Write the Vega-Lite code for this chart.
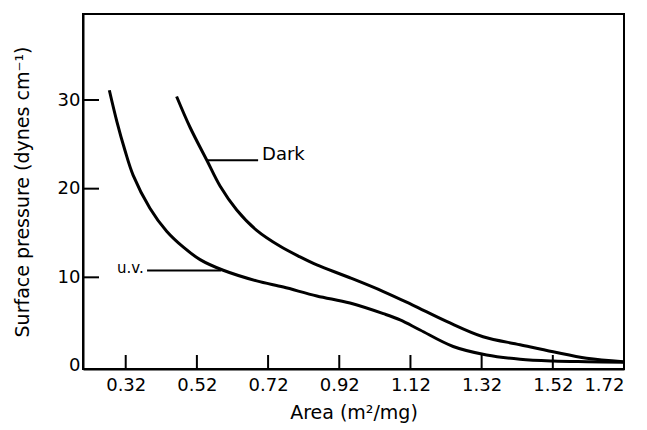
{
  "$schema": "https://vega.github.io/schema/vega-lite/v6.json",
  "autosize": "none",
  "width": 541,
  "height": 355,
  "padding": {"left": 83, "top": 14, "right": 23, "bottom": 61},
  "background": "white",
  "config": {
    "font": "DejaVu Sans",
    "view": {"stroke": "black", "strokeWidth": 2},
    "axis": {
      "domainColor": "black",
      "domainWidth": 2,
      "ticks": false,
      "grid": false,
      "labelColor": "black",
      "titleColor": "black",
      "labelFont": "DejaVu Sans",
      "titleFont": "DejaVu Sans",
      "labelFontSize": 18,
      "titleFontSize": 19,
      "titleFontWeight": "normal"
    }
  },
  "datasets": {
    "curves": [
      {"series": "u.v.", "area": 0.274, "pressure": 31.1},
      {"series": "u.v.", "area": 0.295, "pressure": 27.6},
      {"series": "u.v.", "area": 0.318, "pressure": 24.3},
      {"series": "u.v.", "area": 0.341, "pressure": 21.5},
      {"series": "u.v.", "area": 0.388, "pressure": 17.8},
      {"series": "u.v.", "area": 0.435, "pressure": 15.2},
      {"series": "u.v.", "area": 0.482, "pressure": 13.4},
      {"series": "u.v.", "area": 0.529, "pressure": 12.0},
      {"series": "u.v.", "area": 0.594, "pressure": 10.8},
      {"series": "u.v.", "area": 0.688, "pressure": 9.6},
      {"series": "u.v.", "area": 0.763, "pressure": 8.9},
      {"series": "u.v.", "area": 0.857, "pressure": 7.9},
      {"series": "u.v.", "area": 0.950, "pressure": 7.1},
      {"series": "u.v.", "area": 1.044, "pressure": 5.9},
      {"series": "u.v.", "area": 1.091, "pressure": 5.2},
      {"series": "u.v.", "area": 1.147, "pressure": 4.06},
      {"series": "u.v.", "area": 1.240, "pressure": 2.2},
      {"series": "u.v.", "area": 1.334, "pressure": 1.24},
      {"series": "u.v.", "area": 1.428, "pressure": 0.76},
      {"series": "u.v.", "area": 1.521, "pressure": 0.56},
      {"series": "u.v.", "area": 1.615, "pressure": 0.48},
      {"series": "u.v.", "area": 1.718, "pressure": 0.42},
      {"series": "Dark", "area": 0.463, "pressure": 30.4},
      {"series": "Dark", "area": 0.501, "pressure": 26.9},
      {"series": "Dark", "area": 0.548, "pressure": 23.2},
      {"series": "Dark", "area": 0.585, "pressure": 20.3},
      {"series": "Dark", "area": 0.632, "pressure": 17.6},
      {"series": "Dark", "area": 0.688, "pressure": 15.3},
      {"series": "Dark", "area": 0.754, "pressure": 13.5},
      {"series": "Dark", "area": 0.810, "pressure": 12.3},
      {"series": "Dark", "area": 0.857, "pressure": 11.4},
      {"series": "Dark", "area": 0.950, "pressure": 9.95},
      {"series": "Dark", "area": 1.044, "pressure": 8.4},
      {"series": "Dark", "area": 1.125, "pressure": 6.9},
      {"series": "Dark", "area": 1.223, "pressure": 5.0},
      {"series": "Dark", "area": 1.324, "pressure": 3.3},
      {"series": "Dark", "area": 1.428, "pressure": 2.4},
      {"series": "Dark", "area": 1.521, "pressure": 1.6},
      {"series": "Dark", "area": 1.615, "pressure": 0.87},
      {"series": "Dark", "area": 1.718, "pressure": 0.48}
    ],
    "leaders": [
      {"label": "Dark", "x1": 0.548, "x2": 0.692, "y": 23.2, "tx": 0.703, "ty": 23.8, "align": "left"},
      {"label": "u.v.", "x1": 0.380, "x2": 0.588, "y": 10.77, "tx": 0.371, "ty": 11.1, "align": "right"}
    ],
    "xticks": [
      {"v": 0.32, "y1": -0.34, "y2": 1.24},
      {"v": 0.52, "y1": -0.34, "y2": 1.24},
      {"v": 0.72, "y1": -0.34, "y2": 1.24},
      {"v": 0.92, "y1": -0.34, "y2": 1.24},
      {"v": 1.12, "y1": -0.34, "y2": 1.24},
      {"v": 1.32, "y1": -0.34, "y2": 1.24},
      {"v": 1.52, "y1": -0.34, "y2": 1.24}
    ],
    "yticks": [
      {"v": 10, "x1": 0.2, "x2": 0.245},
      {"v": 20, "x1": 0.2, "x2": 0.245},
      {"v": 30, "x1": 0.2, "x2": 0.245}
    ]
  },
  "layer": [
    {
      "data": {"name": "curves"},
      "mark": {"type": "line", "interpolate": "catmull-rom", "strokeWidth": 3, "color": "black"},
      "encoding": {
        "x": {
          "field": "area", "type": "quantitative",
          "scale": {"domain": [0.2, 1.72], "nice": false, "zero": false},
          "axis": {
            "title": "Area (m²/mg)",
            "values": [0.32, 0.52, 0.72, 0.92, 1.12, 1.32, 1.52, 1.72],
            "format": ".2f",
            "labelPadding": 7,
            "titlePadding": 9
          }
        },
        "y": {
          "field": "pressure", "type": "quantitative",
          "scale": {"domain": [-0.34, 39.7], "nice": false, "zero": false},
          "axis": {
            "title": "Surface pressure (dynes cm⁻¹)",
            "values": [0, 10, 20, 30],
            "labelPadding": 3,
            "titlePadding": 25
          }
        },
        "detail": {"field": "series", "type": "nominal"}
      }
    },
    {
      "data": {"name": "xticks"},
      "mark": {"type": "rule", "strokeWidth": 2, "color": "black"},
      "encoding": {
        "x": {"field": "v", "type": "quantitative"},
        "y": {"field": "y1", "type": "quantitative"},
        "y2": {"field": "y2"}
      }
    },
    {
      "data": {"name": "yticks"},
      "mark": {"type": "rule", "strokeWidth": 2, "color": "black"},
      "encoding": {
        "y": {"field": "v", "type": "quantitative"},
        "x": {"field": "x1", "type": "quantitative"},
        "x2": {"field": "x2"}
      }
    },
    {
      "data": {"name": "leaders"},
      "mark": {"type": "rule", "strokeWidth": 2, "color": "black"},
      "encoding": {
        "x": {"field": "x1", "type": "quantitative"},
        "x2": {"field": "x2"},
        "y": {"field": "y", "type": "quantitative"}
      }
    },
    {
      "data": {"name": "leaders"},
      "transform": [{"filter": "datum.align === 'left'"}],
      "mark": {"type": "text", "align": "left", "baseline": "middle", "fontSize": 18, "font": "DejaVu Sans", "color": "black"},
      "encoding": {
        "x": {"field": "tx", "type": "quantitative"},
        "y": {"field": "ty", "type": "quantitative"},
        "text": {"field": "label"}
      }
    },
    {
      "data": {"name": "leaders"},
      "transform": [{"filter": "datum.align === 'right'"}],
      "mark": {"type": "text", "align": "right", "baseline": "middle", "fontSize": 15, "font": "DejaVu Sans", "color": "black"},
      "encoding": {
        "x": {"field": "tx", "type": "quantitative"},
        "y": {"field": "ty", "type": "quantitative"},
        "text": {"field": "label"}
      }
    }
  ]
}
